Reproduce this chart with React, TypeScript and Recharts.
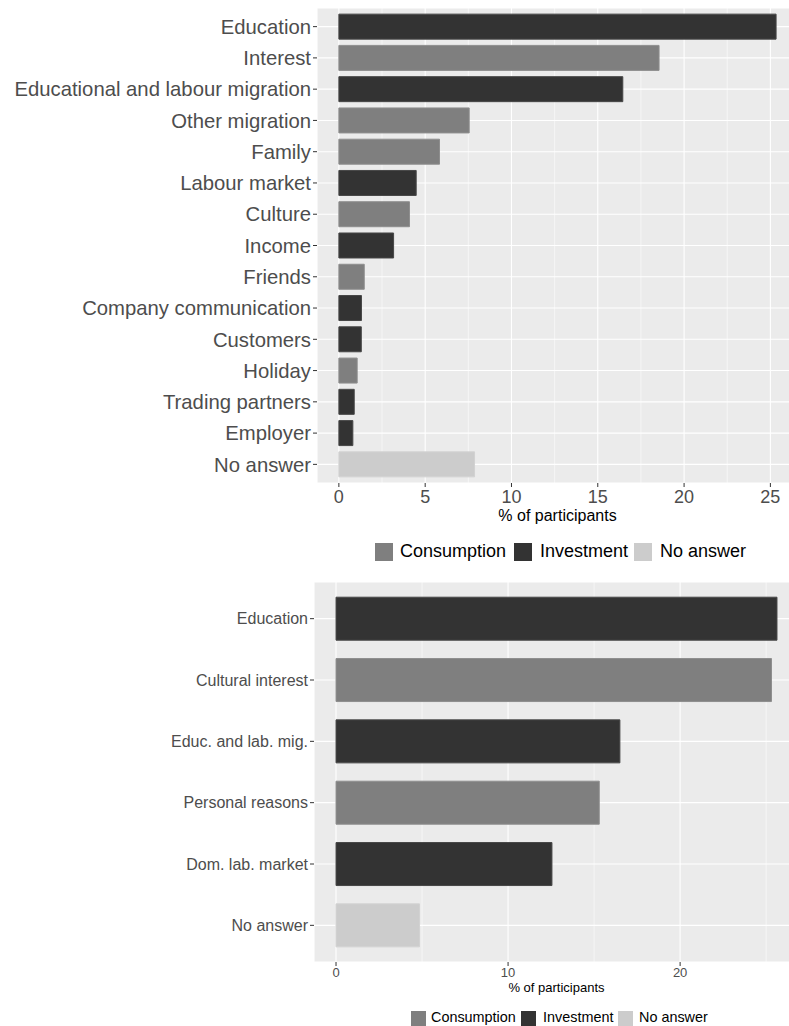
import React from "react";
import { BarChart, Bar, XAxis, YAxis, CartesianGrid, Cell, Label } from "recharts";

// ---------- data ----------
const topCategories = [
  "Education",
  "Interest",
  "Educational and labour migration",
  "Other migration",
  "Family",
  "Labour market",
  "Culture",
  "Income",
  "Friends",
  "Company communication",
  "Customers",
  "Holiday",
  "Trading partners",
  "Employer",
  "No answer",
];
const topValues = [25.33, 18.55, 16.45, 7.55, 5.83, 4.48, 4.09, 3.17, 1.47, 1.31, 1.3, 1.06, 0.89, 0.81, 7.86];
const topGroups = [
  "Investment",
  "Consumption",
  "Investment",
  "Consumption",
  "Consumption",
  "Investment",
  "Consumption",
  "Investment",
  "Consumption",
  "Investment",
  "Investment",
  "Consumption",
  "Investment",
  "Investment",
  "No answer",
];

const bottomCategories = [
  "Education",
  "Cultural interest",
  "Educ. and lab. mig.",
  "Personal reasons",
  "Dom. lab. market",
  "No answer",
];
const bottomValues = [25.63, 25.31, 16.5, 15.3, 12.55, 4.85];
const bottomGroups = ["Investment", "Consumption", "Investment", "Consumption", "Investment", "No answer"];

const legendGroups = ["Consumption", "Investment", "No answer"];
const topTicks = [0, 5, 10, 15, 20, 25];
const topMinor = [2.5, 7.5, 12.5, 17.5, 22.5];
const bottomTicks = [0, 10, 20];
const bottomMinor = [5, 15, 25];
const xTitle = "% of participants";

// ---------- styles ----------
const FILL: Record<string, string> = {
  Consumption: "#7F7F7F",
  Investment: "#333333",
  "No answer": "#CCCCCC",
};
const STROKE: Record<string, string> = {
  Consumption: "#8E8E8E",
  Investment: "#474747",
  "No answer": "#D2D2D2",
};
const FONT = "'Liberation Sans', Arial, Helvetica, sans-serif";

const topData = topCategories.map((name, i) => ({ name, value: topValues[i], group: topGroups[i] }));
const bottomData = bottomCategories.map((name, i) => ({ name, value: bottomValues[i], group: bottomGroups[i] }));

function LegendRow({
  top,
  keyLefts,
  textLefts,
  keySize,
  fontSize,
}: {
  top: number;
  keyLefts: number[];
  textLefts: number[];
  keySize: number;
  fontSize: number;
}) {
  return (
    <>
      {legendGroups.map((g, i) => (
        <React.Fragment key={g}>
          <div
            style={{
              position: "absolute",
              left: keyLefts[i],
              top: top - keySize / 2,
              width: keySize,
              height: keySize,
              background: FILL[g],
            }}
          />
          <div
            style={{
              position: "absolute",
              left: textLefts[i],
              top: top - fontSize * 0.6,
              fontSize,
              lineHeight: `${fontSize * 1.2}px`,
              color: "#000",
              whiteSpace: "nowrap",
            }}
          >
            {g}
          </div>
        </React.Fragment>
      ))}
    </>
  );
}

export default function App() {
  return (
    <div
      style={{
        position: "absolute",
        left: 0,
        top: 0,
        width: 789,
        height: 1026,
        overflow: "hidden",
        background: "#fff",
        fontFamily: FONT,
      }}
    >
      {/* Top chart */}
      <div style={{ position: "absolute", left: 0, top: 0 }}>
        <BarChart
          layout="vertical"
          width={798}
          height={530}
          data={topData}
          margin={{ top: 8, right: 0, bottom: 0, left: 0 }}
          barCategoryGap="10%"
        >
          <CartesianGrid fill="#EBEBEB" stroke="#FFFFFF" strokeWidth={1.1} />
          <CartesianGrid horizontal={false} verticalValues={topMinor} stroke="#FFFFFF" strokeWidth={0.55} />
          <XAxis
            type="number"
            dataKey="value"
            domain={[-1.267, 26.6]}
            ticks={topTicks}
            allowDataOverflow
            axisLine={false}
            tickLine={{ stroke: "#333333" }}
            tickSize={4}
            tickMargin={3}
            height={47}
            tick={{ fill: "#4D4D4D", fontSize: 18, fontFamily: FONT }}
          >
            <Label
              value={xTitle}
              position="insideBottom"
              offset={9}
              style={{ fill: "#000", fontSize: 16, fontFamily: FONT }}
            />
          </XAxis>
          <YAxis
            type="category"
            dataKey="name"
            width={317}
            interval={0}
            axisLine={false}
            tickLine={{ stroke: "#333333" }}
            tickSize={4}
            tickMargin={2}
            padding={{ top: 3, bottom: 3 }}
            tick={{ fill: "#4D4D4D", fontSize: 20.3, fontFamily: FONT }}
          />
          <Bar dataKey="value" isAnimationActive={false}>
            {topData.map((d) => (
              <Cell key={d.name} fill={FILL[d.group]} stroke={STROKE[d.group]} strokeWidth={1} />
            ))}
          </Bar>
        </BarChart>
      </div>
      <LegendRow top={552} keyLefts={[375, 514, 634]} textLefts={[400, 540, 660]} keySize={18} fontSize={18} />

      {/* Bottom chart */}
      <div style={{ position: "absolute", left: 0, top: 574 }}>
        <BarChart
          layout="vertical"
          width={799}
          height={422}
          data={bottomData}
          margin={{ top: 8, right: 0, bottom: 0, left: 0 }}
          barCategoryGap="15%"
        >
          <CartesianGrid fill="#EBEBEB" stroke="#FFFFFF" strokeWidth={1.1} />
          <CartesianGrid horizontal={false} verticalValues={bottomMinor} stroke="#FFFFFF" strokeWidth={0.55} />
          <XAxis
            type="number"
            dataKey="value"
            domain={[-1.28, 26.91]}
            ticks={bottomTicks}
            allowDataOverflow
            axisLine={false}
            tickLine={{ stroke: "#333333" }}
            tickSize={4}
            tickMargin={2}
            height={34}
            tick={{ fill: "#4D4D4D", fontSize: 13, fontFamily: FONT }}
          >
            <Label
              value={xTitle}
              position="insideBottom"
              offset={4}
              style={{ fill: "#000", fontSize: 13, fontFamily: FONT }}
            />
          </XAxis>
          <YAxis
            type="category"
            dataKey="name"
            width={314}
            interval={0}
            axisLine={false}
            tickLine={{ stroke: "#333333" }}
            tickSize={4}
            tickMargin={2}
            padding={{ top: 6, bottom: 6 }}
            tick={{ fill: "#4D4D4D", fontSize: 16, fontFamily: FONT }}
          />
          <Bar dataKey="value" isAnimationActive={false}>
            {bottomData.map((d) => (
              <Cell key={d.name} fill={FILL[d.group]} stroke={STROKE[d.group]} strokeWidth={1} />
            ))}
          </Bar>
        </BarChart>
      </div>
      <LegendRow top={1018} keyLefts={[411, 521, 618]} textLefts={[431, 543, 639]} keySize={15} fontSize={14.4} />
    </div>
  );
}
